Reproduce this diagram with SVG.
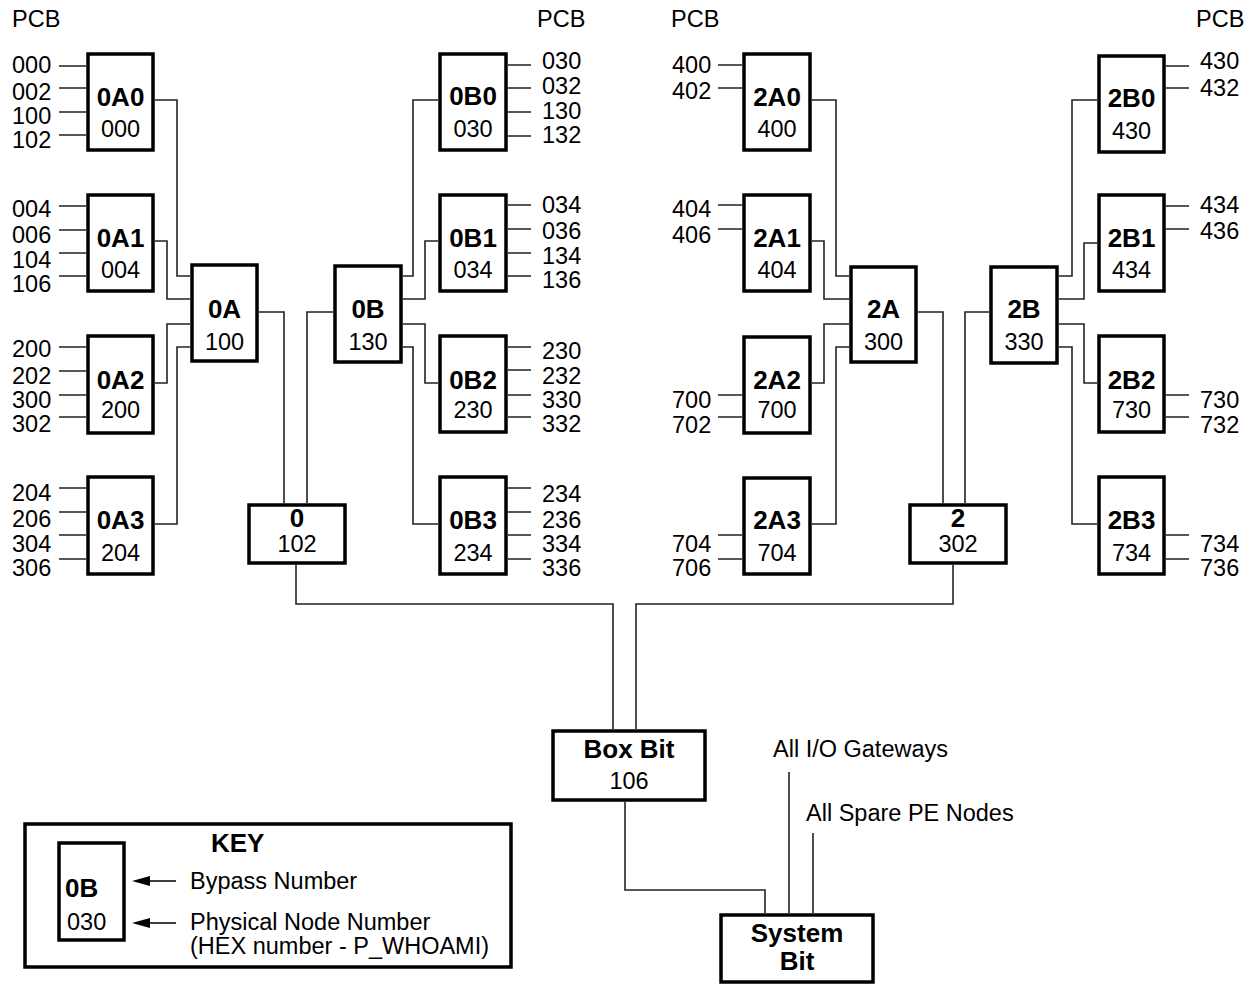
<svg xmlns="http://www.w3.org/2000/svg" width="1255" height="985" viewBox="0 0 1255 985">
<style>
text{font-family:"Liberation Sans",Arial,Helvetica,sans-serif;fill:#000}
.n{font-size:23.5px}
.b{font-size:26px;font-weight:bold}
.c{text-anchor:middle}
.box{fill:#fff;stroke:#000;stroke-width:3.5}
.w{fill:none;stroke:#222;stroke-width:1.6}
</style>
<rect width="1255" height="985" fill="#fff"/>

<g id="pcb-labels">
<text x="12" y="27" class="n">PCB</text>
<text x="537" y="27" class="n">PCB</text>
<text x="671" y="27" class="n">PCB</text>
<text x="1196" y="27" class="n">PCB</text>
</g>

<g id="connectors" class="w">
<polyline class="w" points="155,100 177,100 177,276 190,276"/>
<polyline class="w" points="155,241 167,241 167,299 190,299"/>
<polyline class="w" points="155,383 167,383 167,324 190,324"/>
<polyline class="w" points="155,524 177,524 177,347 190,347"/>
<polyline class="w" points="259,312 284,312 284,503"/>
<polyline class="w" points="333,312 307,312 307,503"/>
<polyline class="w" points="438,100 413,100 413,276 403,276"/>
<polyline class="w" points="438,241 425,241 425,299 403,299"/>
<polyline class="w" points="403,324 425,324 425,383 438,383"/>
<polyline class="w" points="403,347 413,347 413,524 438,524"/>
<polyline class="w" points="296,565 296,604 613,604 613,729"/>
<polyline class="w" points="953,565 953,604 636,604 636,729"/>
<polyline class="w" points="812,100 836,100 836,276 849,276"/>
<polyline class="w" points="812,241 824,241 824,299 849,299"/>
<polyline class="w" points="812,383 824,383 824,324 849,324"/>
<polyline class="w" points="812,524 836,524 836,347 849,347"/>
<polyline class="w" points="918,312 943,312 943,503"/>
<polyline class="w" points="989,312 965,312 965,503"/>
<polyline class="w" points="1097,100 1072,100 1072,276 1059,276"/>
<polyline class="w" points="1097,243 1084,243 1084,299 1059,299"/>
<polyline class="w" points="1059,324 1084,324 1084,383 1097,383"/>
<polyline class="w" points="1059,347 1072,347 1072,524 1097,524"/>
<polyline class="w" points="625,802 625,890 765,890 765,913"/>
<line class="w" x1="789" y1="772" x2="789" y2="913"/>
<line class="w" x1="813" y1="833" x2="813" y2="913"/>
<path class="w" d="M59,66H86M59,88H86M59,112H86M59,135H86M59,206H86M59,230H86M59,253H86M59,276H86M59,347H86M59,371H86M59,395H86M59,417H86M59,488H86M59,512H86M59,535H86M59,559H86"/>
<path class="w" d="M508,65H531M508,88H531M508,112H531M508,136H531M508,205H531M508,229H531M508,253H531M508,276H531M508,347H531M508,370H531M508,395H531M508,417H531M508,488H531M508,512H531M508,535H531M508,559H531"/>
<path class="w" d="M718,65H742M718,88H742M718,205H742M718,229H742M718,395H742M718,417H742M718,535H742M718,559H742"/>
<path class="w" d="M1166,66H1189M1166,88H1189M1166,206H1189M1166,229H1189M1166,395H1189M1166,417H1189M1166,535H1189M1166,559H1189"/>
</g>

<g id="node-0A0"><rect class="box" x="88" y="54" width="65" height="96"/><text class="b c" x="120.5" y="106">0A0</text><text class="n c" x="120.5" y="137">000</text>
<text class="n" x="12" y="73">000</text><text class="n" x="12" y="100">002</text><text class="n" x="12" y="124">100</text><text class="n" x="12" y="148">102</text></g>
<g id="node-0A1"><rect class="box" x="88" y="195" width="65" height="96"/><text class="b c" x="120.5" y="247">0A1</text><text class="n c" x="120.5" y="278">004</text>
<text class="n" x="12" y="217">004</text><text class="n" x="12" y="243">006</text><text class="n" x="12" y="268">104</text><text class="n" x="12" y="292">106</text></g>
<g id="node-0A2"><rect class="box" x="88" y="336" width="65" height="97"/><text class="b c" x="120.5" y="389">0A2</text><text class="n c" x="120.5" y="418">200</text>
<text class="n" x="12" y="357">200</text><text class="n" x="12" y="384">202</text><text class="n" x="12" y="408">300</text><text class="n" x="12" y="432">302</text></g>
<g id="node-0A3"><rect class="box" x="88" y="477" width="65" height="97"/><text class="b c" x="120.5" y="529">0A3</text><text class="n c" x="120.5" y="561">204</text>
<text class="n" x="12" y="501">204</text><text class="n" x="12" y="527">206</text><text class="n" x="12" y="552">304</text><text class="n" x="12" y="576">306</text></g>

<g id="node-0A"><rect class="box" x="192" y="265" width="65" height="96"/><text class="b c" x="224.5" y="318">0A</text><text class="n c" x="224.5" y="350">100</text></g>
<g id="node-0B"><rect class="box" x="335" y="266" width="66" height="96"/><text class="b c" x="368" y="318">0B</text><text class="n c" x="368" y="350">130</text></g>
<g id="node-0"><rect class="box" x="249" y="505" width="96" height="58"/><text class="b c" x="297" y="527">0</text><text class="n c" x="297" y="552">102</text></g>

<g id="node-0B0"><rect class="box" x="440" y="54" width="66" height="96"/><text class="b c" x="473" y="105">0B0</text><text class="n c" x="473" y="137">030</text>
<text class="n" x="542" y="69">030</text><text class="n" x="542" y="94">032</text><text class="n" x="542" y="119">130</text><text class="n" x="542" y="143">132</text></g>
<g id="node-0B1"><rect class="box" x="440" y="195" width="66" height="96"/><text class="b c" x="473" y="247">0B1</text><text class="n c" x="473" y="278">034</text>
<text class="n" x="542" y="213">034</text><text class="n" x="542" y="239">036</text><text class="n" x="542" y="264">134</text><text class="n" x="542" y="288">136</text></g>
<g id="node-0B2"><rect class="box" x="440" y="336" width="66" height="96"/><text class="b c" x="473" y="389">0B2</text><text class="n c" x="473" y="418">230</text>
<text class="n" x="542" y="359">230</text><text class="n" x="542" y="384">232</text><text class="n" x="542" y="408">330</text><text class="n" x="542" y="432">332</text></g>
<g id="node-0B3"><rect class="box" x="440" y="477" width="66" height="97"/><text class="b c" x="473" y="529">0B3</text><text class="n c" x="473" y="561">234</text>
<text class="n" x="542" y="502">234</text><text class="n" x="542" y="528">236</text><text class="n" x="542" y="552">334</text><text class="n" x="542" y="576">336</text></g>

<g id="node-2A0"><rect class="box" x="744" y="54" width="66" height="96"/><text class="b c" x="777" y="106">2A0</text><text class="n c" x="777" y="137">400</text>
<text class="n" x="672" y="73">400</text><text class="n" x="672" y="99">402</text></g>
<g id="node-2A1"><rect class="box" x="744" y="195" width="66" height="96"/><text class="b c" x="777" y="247">2A1</text><text class="n c" x="777" y="278">404</text>
<text class="n" x="672" y="217">404</text><text class="n" x="672" y="243">406</text></g>
<g id="node-2A2"><rect class="box" x="744" y="337" width="66" height="96"/><text class="b c" x="777" y="389">2A2</text><text class="n c" x="777" y="418">700</text>
<text class="n" x="672" y="408">700</text><text class="n" x="672" y="433">702</text></g>
<g id="node-2A3"><rect class="box" x="744" y="478" width="66" height="96"/><text class="b c" x="777" y="529">2A3</text><text class="n c" x="777" y="561">704</text>
<text class="n" x="672" y="552">704</text><text class="n" x="672" y="576">706</text></g>

<g id="node-2A"><rect class="box" x="851" y="267" width="65" height="95"/><text class="b c" x="883.5" y="318">2A</text><text class="n c" x="883.5" y="350">300</text></g>
<g id="node-2B"><rect class="box" x="991" y="267" width="66" height="96"/><text class="b c" x="1024" y="318">2B</text><text class="n c" x="1024" y="350">330</text></g>
<g id="node-2"><rect class="box" x="910" y="505" width="96" height="58"/><text class="b c" x="958" y="527">2</text><text class="n c" x="958" y="552">302</text></g>

<g id="node-2B0"><rect class="box" x="1099" y="56" width="65" height="96"/><text class="b c" x="1131.5" y="107">2B0</text><text class="n c" x="1131.5" y="139">430</text>
<text class="n" x="1200" y="69">430</text><text class="n" x="1200" y="96">432</text></g>
<g id="node-2B1"><rect class="box" x="1099" y="195" width="65" height="96"/><text class="b c" x="1131.5" y="247">2B1</text><text class="n c" x="1131.5" y="278">434</text>
<text class="n" x="1200" y="213">434</text><text class="n" x="1200" y="239">436</text></g>
<g id="node-2B2"><rect class="box" x="1099" y="336" width="65" height="96"/><text class="b c" x="1131.5" y="389">2B2</text><text class="n c" x="1131.5" y="418">730</text>
<text class="n" x="1200" y="408">730</text><text class="n" x="1200" y="433">732</text></g>
<g id="node-2B3"><rect class="box" x="1099" y="477" width="65" height="97"/><text class="b c" x="1131.5" y="529">2B3</text><text class="n c" x="1131.5" y="561">734</text>
<text class="n" x="1200" y="552">734</text><text class="n" x="1200" y="576">736</text></g>

<g id="node-boxbit"><rect class="box" x="553" y="731" width="152" height="69"/><text class="b c" x="629" y="758">Box Bit</text><text class="n c" x="629" y="789">106</text></g>
<g id="node-systembit"><rect class="box" x="721" y="915" width="152" height="67"/><text class="b c" x="797" y="942">System</text><text class="b c" x="797" y="970">Bit</text></g>
<g id="label-io"><text class="n" x="773" y="757">All I/O Gateways</text></g>
<g id="label-spare"><text class="n" x="806" y="821">All Spare PE Nodes</text></g>

<g id="key">
<rect class="box" x="25" y="824" width="486" height="143"/>
<rect class="box" x="59" y="843" width="65" height="97"/>
<text class="b" x="65" y="897">0B</text>
<text class="n" x="67" y="930">030</text>
<text class="b" x="211" y="852">KEY</text>
<line x1="176" y1="881" x2="140" y2="881" stroke="#000" stroke-width="1.6"/>
<path d="M132,881 L150,876 L150,886 Z" fill="#000"/>
<line x1="176" y1="923" x2="140" y2="923" stroke="#000" stroke-width="1.6"/>
<path d="M132,923 L150,918 L150,928 Z" fill="#000"/>
<text class="n" x="190" y="889">Bypass Number</text>
<text class="n" x="190" y="930">Physical Node Number</text>
<text class="n" x="190" y="954">(HEX number - P_WHOAMI)</text>
</g>
</svg>
